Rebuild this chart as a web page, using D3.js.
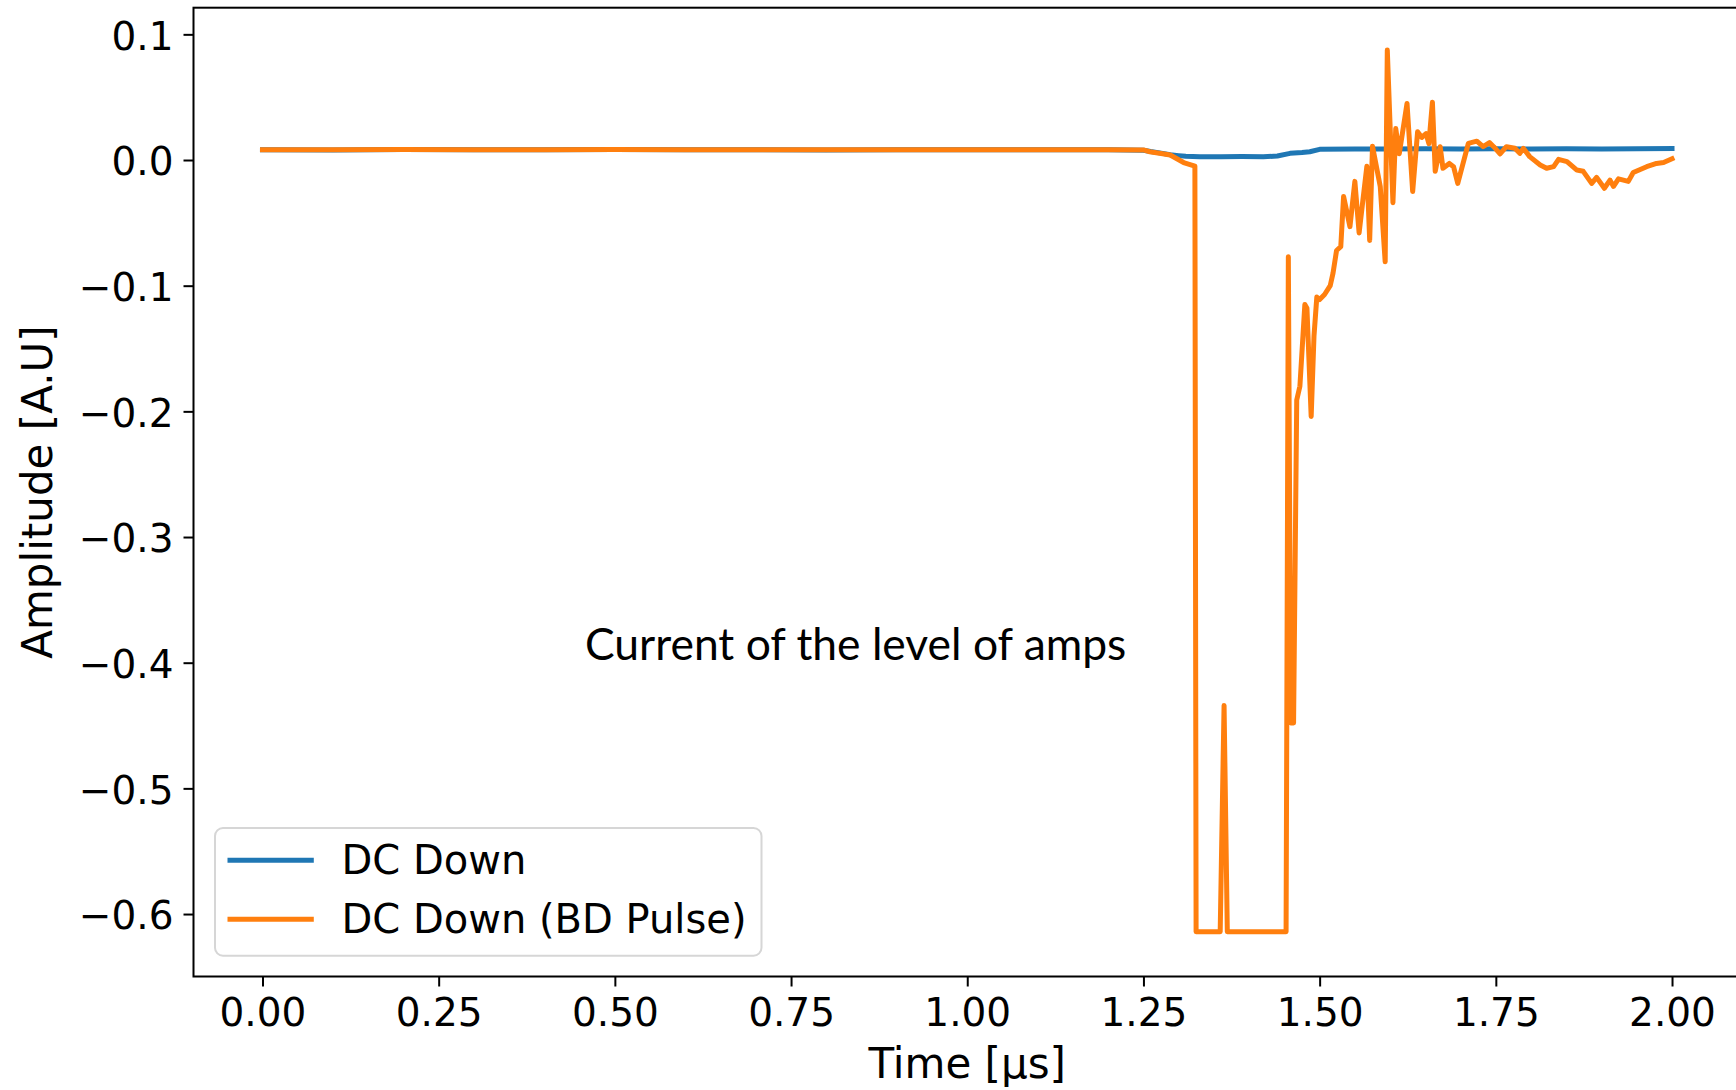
<!DOCTYPE html>
<html>
<head>
<meta charset="utf-8">
<script src="https://cdn.jsdelivr.net/npm/d3@7"></script>
<style>
  html, body { margin: 0; padding: 0; background: #fff; }
  svg { display: block; }
</style>
</head>
<body>
<svg id="chart" width="1736" height="1090"></svg>
<script>
// ---- Data ----
const xTicks = [0, 0.25, 0.5, 0.75, 1.0, 1.25, 1.5, 1.75, 2.0];
const yTicks = [-0.6, -0.5, -0.4, -0.3, -0.2, -0.1, 0.0, 0.1];

const seriesNames = ["DC Down", "DC Down (BD Pulse)"];
const seriesColors = ["#1f77b4", "#ff7f0e"];

const blueT = [0.00, 0.10, 0.20, 0.30, 0.40, 0.50, 0.60, 0.70, 0.80, 0.90, 1.00, 1.10, 1.20, 1.25, 1.26, 1.275, 1.288, 1.30, 1.31, 1.33, 1.36, 1.39, 1.42, 1.44, 1.458, 1.475, 1.486, 1.50, 1.55, 1.60, 1.65, 1.70, 1.75, 1.80, 1.85, 1.90, 1.95, 2.00];
const blueV = [0.0082, 0.0080, 0.0083, 0.0081, 0.0082, 0.0083, 0.0081, 0.0082, 0.0080, 0.0082, 0.0081, 0.0082, 0.0081, 0.0078, 0.0068, 0.0055, 0.0042, 0.0035, 0.0030, 0.0026, 0.0025, 0.0027, 0.0026, 0.0032, 0.0053, 0.0060, 0.0066, 0.0085, 0.0088, 0.0087, 0.0089, 0.0088, 0.0089, 0.0088, 0.0089, 0.0088, 0.0090, 0.0092];

const orangeT = [0.00, 0.10, 0.20, 0.30, 0.40, 0.50, 0.60, 0.70, 0.80, 0.90, 1.00, 1.10, 1.20, 1.25, 1.259, 1.275, 1.288, 1.307, 1.323, 1.3247,
  1.3589, 1.3644, 1.369, 1.4524, 1.4556, 1.459, 1.463, 1.4675, 1.472, 1.479, 1.482, 1.488, 1.492, 1.496, 1.500, 1.507, 1.515, 1.519, 1.524, 1.530,
  1.534, 1.543, 1.550, 1.556, 1.567, 1.571, 1.575, 1.586, 1.593, 1.596, 1.604, 1.608, 1.613, 1.624, 1.632, 1.639, 1.645, 1.651, 1.655, 1.660,
  1.664, 1.671, 1.675, 1.684, 1.690, 1.696, 1.711, 1.723, 1.732, 1.741, 1.747, 1.756, 1.765, 1.777, 1.784, 1.789, 1.798, 1.813, 1.822, 1.832,
  1.839, 1.851, 1.865, 1.874, 1.886, 1.893, 1.904, 1.912, 1.917, 1.924, 1.938, 1.945, 1.964, 1.978, 1.988, 2.000];
const orangeV = [0.0082, 0.0081, 0.0083, 0.0082, 0.0081, 0.0083, 0.0082, 0.0081, 0.0082, 0.0081, 0.0082, 0.0081, 0.0082, 0.0080, 0.0066, 0.0052, 0.0040, -0.0020, -0.0048, -0.614,
  -0.614, -0.434, -0.614, -0.614, -0.077, -0.448, -0.448, -0.191, -0.180, -0.115, -0.118, -0.204, -0.140, -0.109, -0.111, -0.107, -0.100, -0.090, -0.072, -0.069,
  -0.029, -0.053, -0.017, -0.058, -0.005, -0.064, 0.011, -0.021, -0.081, 0.0875, -0.034, 0.025, 0.005, 0.045, -0.025, 0.0225, 0.018, 0.021, 0.013, 0.046,
  -0.009, 0.0106, -0.0066, -0.0027, -0.0053, -0.0186, 0.0133, 0.015, 0.0106, 0.0138, 0.0106, 0.0048, 0.0106, 0.0093, 0.0053, 0.0093, 0.0027, -0.004, -0.0066, -0.0053,
  0.0005, -0.0013, -0.008, -0.009, -0.0186, -0.0138, -0.0225, -0.016, -0.021, -0.015, -0.017, -0.010, -0.0053, -0.0027, -0.002, 0.001];

const xLabel = "Time [μs]";
const yLabel = "Amplitude [A.U]";
const annotation = "Current of the level of amps";

// ---- Drawing ----
const svg = d3.select("#chart");
const plot = { left: 192, right: 1742.5, top: 7.7, bottom: 976.5 };

const x = d3.scaleLinear().domain([-0.1, 2.1]).range([plot.left, plot.right]);
const y = d3.scaleLinear().domain([-0.6497, 0.1212]).range([plot.bottom, plot.top]);

const tickFont = "DejaVu Sans";
const fmtY = v => d3.format(".1f")(v).replace("-", "\u2212");
const fmtX = v => d3.format(".2f")(v);

// lines
const line = d3.line().x(d => x(d[0])).y(d => y(d[1]));
const blueData = blueT.map((t, i) => [t, blueV[i]]);
const orangeData = orangeT.map((t, i) => [t, orangeV[i]]);

svg.append("path").datum(blueData)
  .attr("d", line).attr("fill", "none")
  .attr("stroke", seriesColors[0]).attr("stroke-width", 5)
  .attr("stroke-linejoin", "round").attr("stroke-linecap", "square");
svg.append("path").datum(orangeData)
  .attr("d", line).attr("fill", "none")
  .attr("stroke", seriesColors[1]).attr("stroke-width", 5)
  .attr("stroke-linejoin", "round").attr("stroke-linecap", "square");

// axes
const yAxis = d3.axisLeft(y).tickValues(yTicks).tickFormat(fmtY).tickSize(10).tickSizeOuter(0).tickPadding(10);
const gy = svg.append("g").attr("transform", `translate(${plot.left + 1.5},0)`).call(yAxis);
gy.select(".domain").remove();
gy.selectAll(".tick line").attr("stroke", "#000").attr("stroke-width", 2);
gy.selectAll(".tick text").attr("font-family", tickFont).attr("font-size", 39)
  .attr("fill", "#000").attr("dy", "0.38em");

const xAxis = d3.axisBottom(x).tickValues(xTicks).tickFormat(fmtX).tickSize(10).tickSizeOuter(0).tickPadding(10);
const gx = svg.append("g").attr("transform", `translate(0,${plot.bottom})`).call(xAxis);
gx.select(".domain").remove();
gx.selectAll(".tick line").attr("stroke", "#000").attr("stroke-width", 2);
gx.selectAll(".tick text").attr("font-family", tickFont).attr("font-size", 39)
  .attr("fill", "#000").attr("y", 49.5).attr("dy", 0);

// frame (spines)
svg.append("rect")
  .attr("x", plot.left + 1.5).attr("y", plot.top)
  .attr("width", plot.right - plot.left).attr("height", plot.bottom - plot.top)
  .attr("fill", "none").attr("stroke", "#000").attr("stroke-width", 2);

// axis labels
svg.append("text").text(xLabel)
  .attr("x", (plot.left + plot.right) / 2).attr("y", 1078)
  .attr("text-anchor", "middle").attr("font-family", tickFont).attr("font-size", 42).attr("fill", "#000");
svg.append("text").text(yLabel)
  .attr("transform", `translate(52,${(plot.top + plot.bottom) / 2}) rotate(-90)`)
  .attr("text-anchor", "middle").attr("font-family", tickFont).attr("font-size", 42).attr("fill", "#000");

// legend
const lg = svg.append("g");
lg.append("rect").attr("x", 215).attr("y", 828).attr("width", 546.5).attr("height", 127.7)
  .attr("rx", 8).attr("ry", 8)
  .attr("fill", "#fff").attr("fill-opacity", 0.8).attr("stroke", "#d6d6d6").attr("stroke-width", 2);
const legendY = [860.3, 919.3];
seriesNames.forEach((name, i) => {
  lg.append("line").attr("x1", 227.5).attr("x2", 313.8).attr("y1", legendY[i]).attr("y2", legendY[i])
    .attr("stroke", seriesColors[i]).attr("stroke-width", 5);
  lg.append("text").text(name).attr("x", 341.5).attr("y", legendY[i] + 14)
    .attr("font-family", tickFont).attr("font-size", 40).attr("fill", "#000");
});

// annotation
const ann = svg.append("text").text(annotation)
  .attr("x", 585).attr("y", 660)
  .attr("font-family", "Lato").attr("font-size", 42).attr("fill", "#000");
const w = ann.node().getComputedTextLength();
ann.attr("font-size", 42 * 541.5 / w);
</script>
</body>
</html>
